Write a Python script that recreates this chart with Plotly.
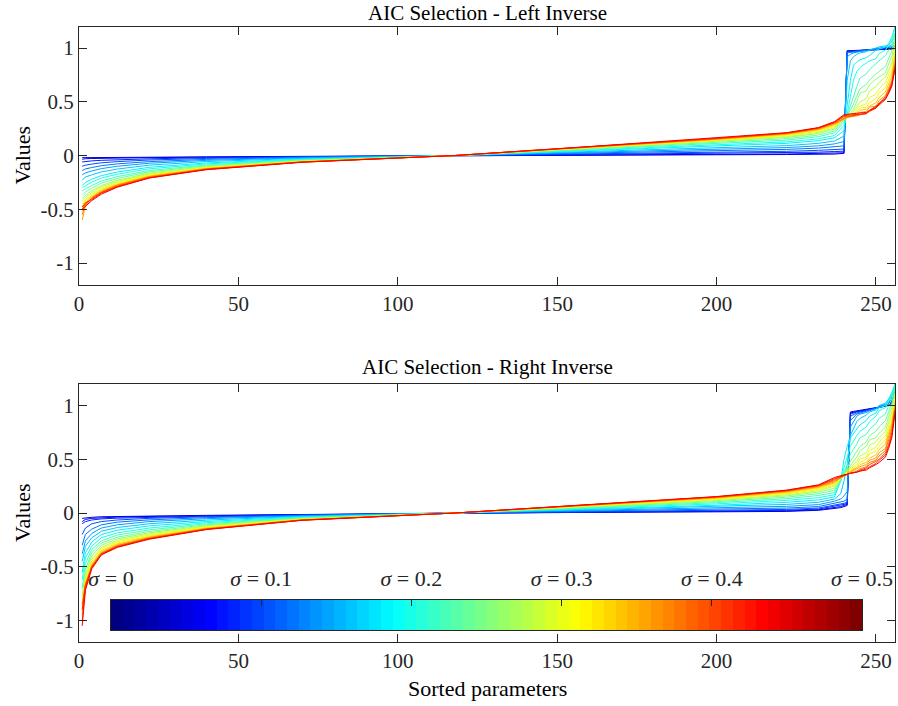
import plotly.graph_objects as go

# Noise levels of the individual runs (one curve per level)
SIGMAS = [0.0, 0.025, 0.05, 0.075, 0.1, 0.125, 0.15, 0.175, 0.2, 0.225, 0.25,
          0.275, 0.3, 0.325, 0.35, 0.375, 0.4, 0.425, 0.45, 0.475, 0.5]

# Sorted-parameter positions at which the curves are sampled
X_LEFT_INV = [1, 2, 4, 7, 12, 22, 40, 70, 118, 160, 200, 222, 232, 237,
              240, 241, 242, 243, 244, 245, 247, 248, 250, 251, 253, 254, 255, 256]
X_RIGHT_INV = [1, 2, 4, 7, 12, 22, 40, 70, 118, 160, 200, 222, 232,
               237, 239, 240, 241, 242, 244, 245, 247, 248, 250, 251, 253, 254, 255, 256]

# Left inverse: sorted values, body (x = 1 ... 237)
LEFT_BODY = [
    [-0.02, -0.02, -0.019, -0.019, -0.018, -0.016, -0.013, -0.008, 0.0, 0.004, 0.007, 0.009, 0.011, 0.013],
    [-0.035, -0.03, -0.028, -0.026, -0.024, -0.02, -0.015, -0.009, 0.0, 0.006, 0.011, 0.014, 0.017, 0.021],
    [-0.06, -0.055, -0.05, -0.045, -0.04, -0.031, -0.02, -0.01, 0.0, 0.01, 0.02, 0.026, 0.031, 0.037],
    [-0.1, -0.09, -0.08, -0.068, -0.057, -0.042, -0.027, -0.013, 0.0, 0.015, 0.03, 0.039, 0.048, 0.058],
    [-0.14, -0.125, -0.112, -0.095, -0.078, -0.057, -0.036, -0.017, 0.0, 0.022, 0.043, 0.057, 0.069, 0.084],
    [-0.18, -0.162, -0.144, -0.122, -0.1, -0.072, -0.045, -0.022, 0.0, 0.029, 0.056, 0.074, 0.09, 0.108],
    [-0.23, -0.2, -0.18, -0.153, -0.126, -0.09, -0.056, -0.027, 0.0, 0.036, 0.07, 0.092, 0.113, 0.135],
    [-0.28, -0.25, -0.22, -0.187, -0.154, -0.11, -0.069, -0.033, 0.0, 0.044, 0.085, 0.113, 0.138, 0.165],
    [-0.3, -0.28, -0.248, -0.21, -0.174, -0.124, -0.078, -0.037, 0.0, 0.05, 0.096, 0.127, 0.155, 0.186],
    [-0.33, -0.31, -0.28, -0.238, -0.196, -0.14, -0.088, -0.042, 0.0, 0.056, 0.108, 0.143, 0.175, 0.21],
    [-0.37, -0.34, -0.304, -0.258, -0.213, -0.152, -0.095, -0.046, 0.0, 0.061, 0.118, 0.156, 0.19, 0.228],
    [-0.4, -0.37, -0.328, -0.279, -0.23, -0.164, -0.103, -0.049, 0.0, 0.066, 0.127, 0.168, 0.205, 0.246],
    [-0.42, -0.39, -0.344, -0.292, -0.241, -0.172, -0.108, -0.052, 0.0, 0.069, 0.133, 0.176, 0.215, 0.258],
    [-0.45, -0.41, -0.36, -0.306, -0.252, -0.18, -0.113, -0.054, 0.0, 0.072, 0.14, 0.185, 0.225, 0.27],
    [-0.47, -0.42, -0.372, -0.316, -0.26, -0.186, -0.116, -0.056, 0.0, 0.074, 0.144, 0.19, 0.233, 0.279],
    [-0.52, -0.44, -0.384, -0.326, -0.269, -0.192, -0.12, -0.058, 0.0, 0.077, 0.149, 0.197, 0.24, 0.288],
    [-0.6, -0.47, -0.392, -0.333, -0.274, -0.196, -0.123, -0.059, 0.0, 0.078, 0.152, 0.201, 0.245, 0.294],
    [-0.55, -0.46, -0.4, -0.34, -0.28, -0.2, -0.125, -0.06, 0.0, 0.08, 0.155, 0.205, 0.25, 0.3],
    [-0.5, -0.45, -0.4, -0.345, -0.285, -0.205, -0.13, -0.062, 0.0, 0.082, 0.158, 0.208, 0.255, 0.305],
    [-0.48, -0.44, -0.41, -0.35, -0.29, -0.208, -0.128, -0.061, 0.0, 0.081, 0.16, 0.21, 0.256, 0.31],
    [-0.5, -0.47, -0.42, -0.36, -0.295, -0.21, -0.132, -0.063, 0.0, 0.083, 0.162, 0.212, 0.26, 0.315],
]
# Left inverse: sorted values, tail (x = 240 ... 256)
LEFT_TAIL = [
    [0.02, 0.975, 0.976, 0.977, 0.978, 0.979, 0.98, 0.981, 0.982, 0.983, 0.985, 0.986, 0.988, 0.99],
    [0.025, 0.972, 0.974, 0.975, 0.977, 0.979, 0.98, 0.982, 0.984, 0.985, 0.988, 0.99, 0.993, 1.0],
    [0.04, 0.968, 0.97, 0.972, 0.974, 0.976, 0.978, 0.98, 0.985, 0.988, 0.992, 0.995, 1.0, 1.01],
    [0.06, 0.963, 0.966, 0.968, 0.971, 0.974, 0.977, 0.982, 0.986, 0.99, 0.995, 1.0, 1.006, 1.02],
    [0.09, 0.955, 0.958, 0.962, 0.966, 0.97, 0.975, 0.98, 0.99, 0.995, 1.0, 1.005, 1.012, 1.03],
    [0.13, 0.92, 0.94, 0.955, 0.96, 0.968, 0.975, 0.985, 0.995, 1.0, 1.005, 1.012, 1.03, 1.06],
    [0.18, 0.7, 0.88, 0.92, 0.94, 0.955, 0.965, 0.98, 1.0, 1.01, 1.02, 1.03, 1.06, 1.12],
    [0.23, 0.45, 0.7, 0.84, 0.87, 0.89, 0.91, 0.93, 0.98, 0.99, 1.01, 1.04, 1.1, 1.2],
    [0.28, 0.38, 0.55, 0.7, 0.78, 0.82, 0.86, 0.88, 0.9, 0.95, 0.98, 1.02, 1.08, 1.18],
    [0.31, 0.36, 0.46, 0.56, 0.64, 0.72, 0.76, 0.8, 0.86, 0.88, 0.93, 0.98, 1.03, 1.14],
    [0.33, 0.37, 0.42, 0.48, 0.56, 0.62, 0.66, 0.7, 0.76, 0.78, 0.83, 0.9, 0.97, 1.1],
    [0.34, 0.36, 0.39, 0.43, 0.5, 0.58, 0.6, 0.66, 0.71, 0.73, 0.77, 0.85, 0.92, 1.06],
    [0.35, 0.37, 0.39, 0.41, 0.45, 0.5, 0.53, 0.6, 0.64, 0.68, 0.73, 0.8, 0.86, 1.02],
    [0.35, 0.36, 0.37, 0.39, 0.43, 0.46, 0.48, 0.54, 0.57, 0.62, 0.68, 0.75, 0.82, 0.99],
    [0.34, 0.355, 0.365, 0.38, 0.41, 0.44, 0.45, 0.49, 0.53, 0.58, 0.63, 0.71, 0.78, 0.96],
    [0.34, 0.35, 0.36, 0.37, 0.39, 0.42, 0.43, 0.46, 0.49, 0.54, 0.59, 0.67, 0.74, 0.93],
    [0.345, 0.355, 0.36, 0.365, 0.38, 0.4, 0.41, 0.45, 0.46, 0.51, 0.56, 0.63, 0.7, 0.89],
    [0.35, 0.36, 0.362, 0.365, 0.37, 0.38, 0.39, 0.42, 0.44, 0.49, 0.53, 0.61, 0.66, 0.86],
    [0.36, 0.365, 0.367, 0.37, 0.375, 0.38, 0.39, 0.42, 0.46, 0.48, 0.55, 0.6, 0.68, 0.84],
    [0.37, 0.375, 0.377, 0.38, 0.383, 0.386, 0.39, 0.41, 0.44, 0.47, 0.52, 0.58, 0.64, 0.82],
    [0.38, 0.385, 0.387, 0.39, 0.393, 0.396, 0.4, 0.42, 0.45, 0.48, 0.53, 0.58, 0.66, 0.8],
]

# Right inverse: sorted values, body (x = 1 ... 232)
RIGHT_BODY = [
    [-0.05, -0.045, -0.04, -0.035, -0.032, -0.028, -0.022, -0.014, 0.0, 0.006, 0.011, 0.015, 0.025],
    [-0.08, -0.06, -0.05, -0.043, -0.038, -0.032, -0.025, -0.016, 0.0, 0.007, 0.014, 0.019, 0.03],
    [-0.1, -0.08, -0.065, -0.055, -0.048, -0.039, -0.029, -0.017, 0.0, 0.009, 0.018, 0.025, 0.037],
    [-0.2, -0.14, -0.1, -0.08, -0.065, -0.05, -0.035, -0.019, 0.0, 0.012, 0.024, 0.033, 0.046],
    [-0.3, -0.2, -0.15, -0.11, -0.085, -0.064, -0.043, -0.022, 0.0, 0.017, 0.033, 0.046, 0.06],
    [-0.38, -0.26, -0.19, -0.14, -0.11, -0.08, -0.053, -0.026, 0.0, 0.023, 0.045, 0.062, 0.078],
    [-0.45, -0.31, -0.23, -0.17, -0.135, -0.1, -0.066, -0.031, 0.0, 0.03, 0.058, 0.08, 0.1],
    [-0.55, -0.37, -0.27, -0.2, -0.16, -0.12, -0.079, -0.036, 0.0, 0.037, 0.072, 0.099, 0.122],
    [-0.62, -0.42, -0.31, -0.23, -0.185, -0.14, -0.09, -0.041, 0.0, 0.043, 0.085, 0.117, 0.143],
    [-0.7, -0.47, -0.34, -0.26, -0.205, -0.157, -0.1, -0.045, 0.0, 0.049, 0.096, 0.133, 0.163],
    [-0.78, -0.52, -0.37, -0.28, -0.225, -0.172, -0.109, -0.049, 0.0, 0.054, 0.106, 0.147, 0.18],
    [-0.85, -0.56, -0.4, -0.3, -0.24, -0.184, -0.117, -0.052, 0.0, 0.058, 0.115, 0.159, 0.195],
    [-0.9, -0.6, -0.43, -0.32, -0.255, -0.195, -0.124, -0.055, 0.0, 0.062, 0.122, 0.169, 0.207],
    [-0.8, -0.62, -0.45, -0.335, -0.268, -0.205, -0.13, -0.058, 0.0, 0.065, 0.128, 0.178, 0.218],
    [-0.92, -0.64, -0.47, -0.35, -0.28, -0.214, -0.136, -0.06, 0.0, 0.068, 0.134, 0.186, 0.228],
    [-0.88, -0.66, -0.48, -0.36, -0.29, -0.222, -0.141, -0.062, 0.0, 0.071, 0.139, 0.193, 0.237],
    [-0.95, -0.68, -0.49, -0.37, -0.3, -0.228, -0.145, -0.064, 0.0, 0.073, 0.143, 0.199, 0.244],
    [-0.85, -0.66, -0.5, -0.375, -0.305, -0.233, -0.148, -0.065, 0.0, 0.074, 0.146, 0.203, 0.25],
    [-1.0, -0.7, -0.5, -0.38, -0.31, -0.237, -0.15, -0.066, 0.0, 0.075, 0.149, 0.207, 0.254],
    [-0.9, -0.68, -0.51, -0.385, -0.315, -0.24, -0.152, -0.067, 0.0, 0.076, 0.151, 0.21, 0.258],
    [-1.05, -0.72, -0.52, -0.39, -0.32, -0.244, -0.154, -0.068, 0.0, 0.077, 0.153, 0.213, 0.262],
]
# Right inverse: sorted values, tail (x = 237 ... 256)
RIGHT_TAIL = [
    [0.04, 0.05, 0.06, 0.07, 0.94, 0.95, 0.955, 0.962, 0.97, 0.975, 0.98, 0.99, 1.0, 1.02, 1.08],
    [0.05, 0.06, 0.07, 0.08, 0.93, 0.945, 0.95, 0.96, 0.965, 0.975, 0.985, 0.995, 1.005, 1.03, 1.1],
    [0.06, 0.07, 0.08, 0.09, 0.92, 0.94, 0.945, 0.955, 0.96, 0.97, 0.98, 0.995, 1.01, 1.04, 1.12],
    [0.07, 0.085, 0.09, 0.1, 0.9, 0.93, 0.94, 0.95, 0.96, 0.975, 0.985, 1.0, 1.02, 1.05, 1.13],
    [0.09, 0.1, 0.11, 0.13, 0.86, 0.92, 0.93, 0.945, 0.955, 0.975, 0.99, 1.005, 1.03, 1.06, 1.15],
    [0.11, 0.13, 0.16, 0.2, 0.8, 0.9, 0.92, 0.935, 0.95, 0.97, 0.995, 1.01, 1.04, 1.08, 1.16],
    [0.13, 0.18, 0.3, 0.45, 0.72, 0.85, 0.88, 0.91, 0.94, 0.96, 1.0, 1.02, 1.06, 1.1, 1.18],
    [0.15, 0.3, 0.5, 0.62, 0.7, 0.78, 0.82, 0.86, 0.9, 0.93, 0.98, 1.0, 1.06, 1.12, 1.2],
    [0.17, 0.3, 0.42, 0.52, 0.62, 0.72, 0.76, 0.8, 0.85, 0.9, 0.95, 0.98, 1.04, 1.1, 1.2],
    [0.19, 0.3, 0.38, 0.45, 0.55, 0.64, 0.7, 0.73, 0.78, 0.83, 0.88, 0.92, 1.0, 1.06, 1.18],
    [0.21, 0.31, 0.37, 0.42, 0.48, 0.57, 0.62, 0.66, 0.72, 0.76, 0.8, 0.86, 0.95, 1.02, 1.15],
    [0.23, 0.32, 0.36, 0.4, 0.44, 0.52, 0.58, 0.62, 0.68, 0.7, 0.74, 0.8, 0.9, 0.98, 1.12],
    [0.25, 0.33, 0.36, 0.39, 0.42, 0.48, 0.53, 0.56, 0.63, 0.66, 0.7, 0.76, 0.85, 0.94, 1.1],
    [0.26, 0.33, 0.35, 0.38, 0.41, 0.45, 0.5, 0.52, 0.58, 0.61, 0.66, 0.72, 0.82, 0.9, 1.08],
    [0.27, 0.33, 0.35, 0.37, 0.4, 0.43, 0.47, 0.5, 0.55, 0.58, 0.62, 0.68, 0.78, 0.86, 1.05],
    [0.28, 0.33, 0.345, 0.36, 0.39, 0.42, 0.45, 0.47, 0.51, 0.54, 0.59, 0.64, 0.75, 0.83, 1.03],
    [0.29, 0.33, 0.345, 0.36, 0.38, 0.41, 0.43, 0.45, 0.49, 0.51, 0.56, 0.6, 0.72, 0.8, 1.0],
    [0.3, 0.335, 0.345, 0.355, 0.37, 0.39, 0.41, 0.43, 0.47, 0.49, 0.53, 0.58, 0.68, 0.78, 0.98],
    [0.31, 0.34, 0.35, 0.36, 0.37, 0.38, 0.4, 0.42, 0.45, 0.48, 0.5, 0.56, 0.64, 0.75, 0.96],
    [0.32, 0.345, 0.35, 0.36, 0.37, 0.38, 0.39, 0.41, 0.43, 0.46, 0.49, 0.54, 0.62, 0.72, 0.95],
    [0.33, 0.35, 0.355, 0.36, 0.37, 0.38, 0.39, 0.4, 0.42, 0.45, 0.47, 0.52, 0.6, 0.7, 0.93],
]

X_TICKS = [0, 50, 100, 150, 200, 250]
Y_TICKS = [-1, -0.5, 0, 0.5, 1]
Y_TICK_TEXT = ["-1", "-0.5", "0", "0.5", "1"]
SIGMA_TICKS = [0, 0.1, 0.2, 0.3, 0.4, 0.5]
SIGMA_TICK_TEXT = ["<i>σ</i> = 0", "<i>σ</i> = 0.1", "<i>σ</i> = 0.2",
                   "<i>σ</i> = 0.3", "<i>σ</i> = 0.4", "<i>σ</i> = 0.5"]
N_COLORS = 64

FONT = "Liberation Serif"
INK = "#262626"
W, H = 898, 706


def jet(f):
    """MATLAB-style jet colormap value for f in [0, 1]."""
    def clip(v):
        return max(0.0, min(1.0, v))
    r = clip(1.5 - abs(4 * f - 3))
    g = clip(1.5 - abs(4 * f - 2))
    b = clip(1.5 - abs(4 * f - 1))
    return "rgb(%d,%d,%d)" % (round(r * 255), round(g * 255), round(b * 255))


def line_color(sigma):
    return jet(0.08 + 0.8 * sigma / 0.5)


fig = go.Figure()

for sigma, body, tail in zip(SIGMAS, LEFT_BODY, LEFT_TAIL):
    fig.add_trace(go.Scatter(
        x=X_LEFT_INV, y=body + tail, mode="lines",
        line=dict(color=line_color(sigma), width=1),
        xaxis="x", yaxis="y", showlegend=False, hoverinfo="skip"))

for sigma, body, tail in zip(SIGMAS, RIGHT_BODY, RIGHT_TAIL):
    fig.add_trace(go.Scatter(
        x=X_RIGHT_INV, y=body + tail, mode="lines",
        line=dict(color=line_color(sigma), width=1),
        xaxis="x2", yaxis="y2", showlegend=False, hoverinfo="skip"))

# Discrete jet colour bar (64 steps) drawn as a one-row heatmap
levels = list(range(N_COLORS))
edges = [SIGMA_TICKS[-1] * i / N_COLORS for i in range(N_COLORS + 1)]
colorscale = []
for i in range(N_COLORS):
    c = jet(i / (N_COLORS - 1))
    colorscale.append([i / N_COLORS, c])
    colorscale.append([(i + 1) / N_COLORS, c])
fig.add_trace(go.Heatmap(
    z=[levels], x=edges, y=[0], xaxis="x3", yaxis="y3",
    colorscale=colorscale, zmin=-0.5, zmax=N_COLORS - 0.5,
    showscale=False, hoverinfo="skip"))


def px_x(p):
    return p / W


def px_y(p):
    return 1 - p / H


tick_font = dict(family=FONT, size=21, color=INK)
common_x = dict(range=[0, 256], tickvals=X_TICKS, ticks="inside", ticklen=8,
                tickcolor=INK, mirror="ticks", showline=True, linecolor=INK,
                linewidth=1, showgrid=False, zeroline=False, tickfont=tick_font,
                automargin=False)
common_y = dict(range=[-1.2, 1.2], tickvals=Y_TICKS, ticktext=Y_TICK_TEXT,
                ticks="inside", ticklen=8, tickcolor=INK, mirror="ticks",
                showline=True, linecolor=INK, linewidth=1, showgrid=False,
                zeroline=False, tickfont=tick_font, automargin=False)

x_dom = [px_x(79), px_x(895)]
fig.update_layout(
    template="none",
    width=W, height=H,
    margin=dict(l=0, r=0, t=0, b=0, autoexpand=False),
    paper_bgcolor="white", plot_bgcolor="white",
    xaxis=dict(domain=x_dom, anchor="y", **common_x),
    yaxis=dict(domain=[px_y(284.5), px_y(26.5)], anchor="x", **common_y),
    xaxis2=dict(domain=x_dom, anchor="y2", **common_x),
    yaxis2=dict(domain=[px_y(642), px_y(384)], anchor="x2", **common_y),
    xaxis3=dict(domain=[px_x(111), px_x(862)], anchor="y3", range=[0, 0.5],
                side="top", tickvals=SIGMA_TICKS, ticktext=SIGMA_TICK_TEXT,
                ticks="inside", ticklen=6, tickcolor=INK, showline=True,
                mirror=True, linecolor=INK, linewidth=1, showgrid=False,
                zeroline=False, ticklabelstandoff=4,
                tickfont=dict(family=FONT, size=22, color=INK),
                automargin=False),
    yaxis3=dict(domain=[px_y(630), px_y(600)], anchor="x3", range=[-0.5, 0.5],
                showticklabels=False, ticks="", showline=True, mirror=True,
                linecolor=INK, linewidth=1, showgrid=False, zeroline=False,
                automargin=False),
)

text_font = dict(family=FONT, size=22, color="black")
title_font = dict(family=FONT, size=21, color="black")
annotations = [
    dict(text="AIC Selection - Left Inverse", x=px_x(487), y=1.0,
         yanchor="top", font=title_font),
    dict(text="AIC Selection - Right Inverse", x=px_x(487), y=px_y(367),
         yanchor="middle", font=title_font),
    dict(text="Sorted parameters", x=px_x(487), y=px_y(688),
         yanchor="middle", font=text_font),
    dict(text="Values", x=px_x(22), y=px_y(155.5), textangle=-90,
         yanchor="middle", font=text_font),
    dict(text="Values", x=px_x(22), y=px_y(513), textangle=-90,
         yanchor="middle", font=text_font),
]
for a in annotations:
    fig.add_annotation(xref="paper", yref="paper", showarrow=False,
                       xanchor="center", borderpad=0, **a)

fig.write_html("out.html")
